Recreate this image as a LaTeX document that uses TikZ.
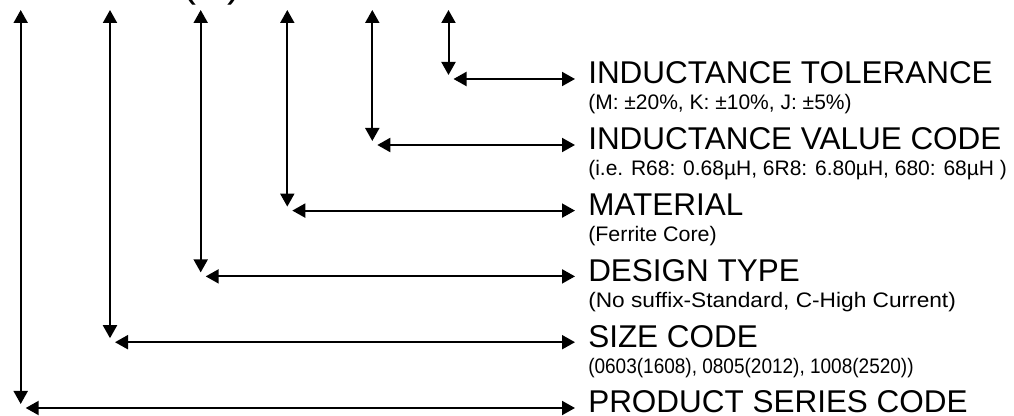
\documentclass[tikz,border=0pt]{standalone}
\usepackage{fontspec}
\setmainfont{Liberation Sans}
\usepackage{tikz}
\usetikzlibrary{arrows.meta}
\newcommand{\gross}{\fontsize{23.6}{28}\selectfont}
\newcommand{\klein}{\fontsize{15.75}{19}\selectfont}
\begin{document}
\begin{tikzpicture}[x=0.75pt,y=-0.75pt,
  pfeil/.style={line width=1.5pt,{Triangle[length=9.75pt,width=10.5pt]}-{Triangle[length=9.75pt,width=10.5pt]}},
  senk/.style={pfeil,shorten >=3pt},
  quer/.style={pfeil,shorten <=3.75pt,shorten >=9.75pt},
  haupt/.style={anchor=base west,inner sep=0pt,font=\gross},
  zusatz/.style={anchor=base west,inner sep=0pt,font=\klein}]
\useasboundingbox (0,0) rectangle (1014,416);
\node[anchor=base,inner sep=0pt,font=\fontsize{31.5}{36}\selectfont] (kopf) at (212,-3.9) {(C)};
\coordinate (tolT) at (448.5,10);  \coordinate (tolE) at (448.5,79);
\coordinate (valT) at (372.3,10);  \coordinate (valE) at (372.3,145);
\coordinate (matT) at (287.3,10);  \coordinate (matE) at (287.3,210.6);
\coordinate (desT) at (200.7,10);  \coordinate (desE) at (200.7,276.4);
\coordinate (sizT) at (110,10);    \coordinate (sizE) at (110,342.2);
\coordinate (serT) at (20.7,10);   \coordinate (serE) at (20.7,408);
\node[haupt] (tol) at (588,84) {INDUCTANCE TOLERANCE};
\node[zusatz] (tolX) at (588,110) {(M: ±20\%, K: ±10\%, J: ±5\%)};
\node[haupt] (val) at (588,150) {INDUCTANCE VALUE CODE};
\node[zusatz] (valX) at (588,176) {(i.e. R68: 0.68µH, 6R8: 6.80µH, 680: 68µH )};
\node[haupt] (mat) at (588,215.6) {MATERIAL};
\node[zusatz] (matX) at (588,242) {\scalebox{1.02}[1]{(Ferrite Core)}};
\node[haupt] (des) at (588,281.4) {DESIGN TYPE};
\node[zusatz] (desX) at (588,307.4) {\scalebox{1.08}[1]{(No suffix-Standard, C-High Current)}};
\node[haupt] (siz) at (588,347.2) {SIZE CODE};
\node[zusatz] (sizX) at (588,373.2) {\scalebox{0.905}[1]{(0603(1608), 0805(2012), 1008(2520))}};
\node[haupt] (ser) at (588,413) {PRODUCT SERIES CODE};
\draw[senk] (tolT) -- (tolE);  \draw[quer] (tolE) -- (tolE -| tol.west);
\draw[senk] (valT) -- (valE);  \draw[quer] (valE) -- (valE -| val.west);
\draw[senk] (matT) -- (matE);  \draw[quer] (matE) -- (matE -| mat.west);
\draw[senk] (desT) -- (desE);  \draw[quer] (desE) -- (desE -| des.west);
\draw[senk] (sizT) -- (sizE);  \draw[quer] (sizE) -- (sizE -| siz.west);
\draw[senk] (serT) -- (serE);  \draw[quer] (serE) -- (serE -| ser.west);
\end{tikzpicture}
\end{document}
